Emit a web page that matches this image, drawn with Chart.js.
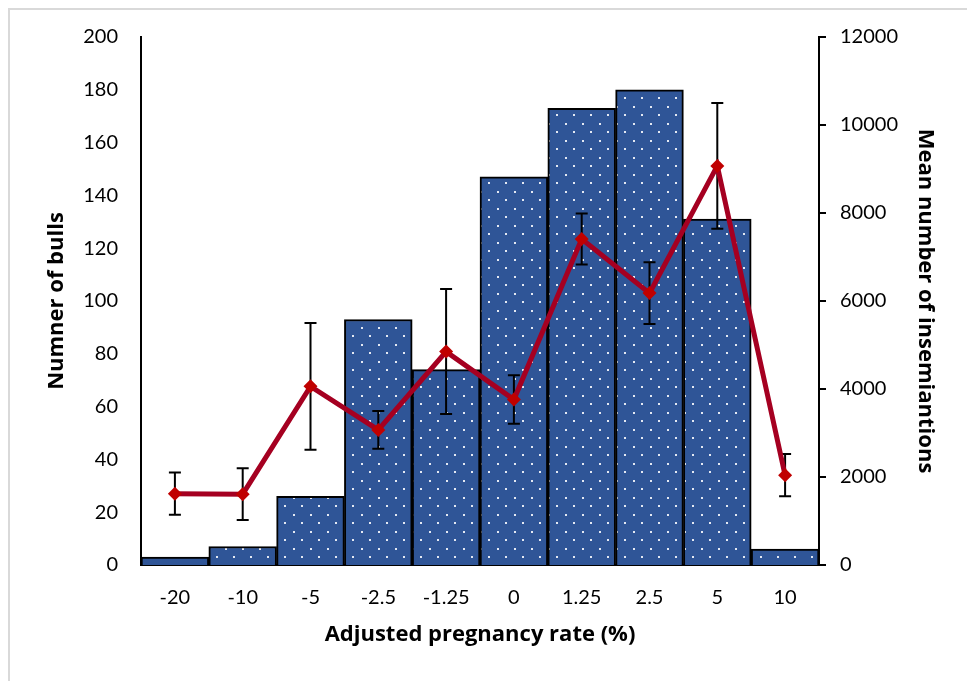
<!DOCTYPE html>
<html>
<head>
<meta charset="utf-8">
<script src="https://cdn.jsdelivr.net/npm/chart.js@4.4.1/dist/chart.umd.min.js"></script>
<style>
  html, body { margin: 0; padding: 0; background: #fff; }
  #frame { position: absolute; left: 8px; top: 8px; width: 1000px; height: 700px;
           border-left: 2px solid #d9d9d9; border-top: 2px solid #d9d9d9; }
  #wrap { position: absolute; left: 0; top: 0; width: 967px; height: 681px; }
</style>
</head>
<body>
<div id="frame"></div>
<div id="wrap"><canvas id="chart" width="967" height="681"></canvas></div>
<script>
// Data
const categories = ['-20', '-10', '-5', '-2.5', '-1.25', '0', '1.25', '2.5', '5', '10'];
const bulls = [3, 7, 26, 93, 74, 147, 173, 180, 131, 6];
const meanInseminations = [1620, 1610, 4060, 3070, 4850, 3760, 7410, 6180, 9070, 2040];
const inseminationErr = [480, 590, 1440, 430, 1420, 550, 580, 700, 1430, 480];

const FONT = 'Lato, "Open Sans", sans-serif';
const TITLE_FONT = '"Open Sans", Lato, sans-serif';

// blue fill with small white dots
function dotPattern() {
  const c = document.createElement('canvas');
  c.width = 17; c.height = 17;
  const g = c.getContext('2d');
  g.fillStyle = '#2F5597';
  g.fillRect(0, 0, 17, 17);
  g.fillStyle = '#e4e9f3';
  g.fillRect(4, 4, 2, 2);
  g.fillRect(12, 12, 2, 2);
  return g.createPattern(c, 'repeat');
}

// error bars for the line, drawn under the line itself
const errorBars = {
  id: 'errorBars',
  beforeDatasetDraw(chart, args) {
    if (args.index !== 0) return;
    const meta = chart.getDatasetMeta(0);
    const y = chart.scales.y1;
    const ctx = chart.ctx;
    ctx.save();
    ctx.strokeStyle = '#000';
    ctx.lineWidth = 2;
    meta.data.forEach((pt, i) => {
      const top = y.getPixelForValue(meanInseminations[i] + inseminationErr[i]);
      const bot = y.getPixelForValue(meanInseminations[i] - inseminationErr[i]);
      ctx.beginPath();
      ctx.moveTo(pt.x, top); ctx.lineTo(pt.x, bot);
      ctx.moveTo(pt.x - 6, top); ctx.lineTo(pt.x + 6, top);
      ctx.moveTo(pt.x - 6, bot); ctx.lineTo(pt.x + 6, bot);
      ctx.stroke();
    });
    ctx.restore();
  }
};

new Chart(document.getElementById('chart'), {
  data: {
    labels: categories,
    datasets: [
      {
        type: 'line',
        label: 'Mean number of inseminations',
        data: meanInseminations,
        yAxisID: 'y1',
        borderColor: '#A50021',
        borderWidth: 5,
        pointStyle: 'rectRot',
        pointRadius: 7,
        pointBackgroundColor: '#C00000',
        pointBorderColor: '#C00000',
        pointBorderWidth: 0,
        tension: 0,
        order: 0
      },
      {
        type: 'bar',
        label: 'Number of bulls',
        data: bulls,
        yAxisID: 'y',
        backgroundColor: dotPattern(),
        borderColor: '#000',
        borderWidth: 2,
        categoryPercentage: 1,
        barPercentage: 1,
        order: 1
      }
    ]
  },
  options: {
    responsive: false,
    animation: false,
    layout: { padding: { top: 37, left: 0, right: 0, bottom: 0 } },
    plugins: { legend: { display: false }, tooltip: { enabled: false } },
    scales: {
      x: {
        offset: true,
        grid: { display: false, drawTicks: false },
        border: { display: true, color: '#000', width: 2 },
        ticks: { color: '#000', font: { family: FONT, size: 20 }, padding: 21 },
        title: {
          display: true, text: 'Adjusted pregnancy rate (%)', color: '#000',
          font: { family: TITLE_FONT, size: 22, weight: 'bold' }, padding: { top: 0, bottom: 33 }
        },
        afterFit(scale) { scale.height = 116; }
      },
      y: {
        position: 'left',
        min: 0, max: 200,
        ticks: { stepSize: 20, color: '#000', font: { family: FONT, size: 20 }, padding: 23 },
        grid: { display: false, drawTicks: false },
        border: { display: true, color: '#000', width: 2 },
        title: {
          display: true, text: 'Numner of bulls', color: '#000',
          font: { family: TITLE_FONT, size: 22, weight: 'bold' }, padding: { top: 44, bottom: 0 }
        },
        afterFit(scale) { scale.width = 141; }
      },
      y1: {
        position: 'right',
        min: 0, max: 12000,
        ticks: {
          stepSize: 2000, color: '#000', font: { family: FONT, size: 20 }, padding: 14,
          callback: (v) => String(v)
        },
        grid: { drawOnChartArea: false, drawTicks: true, tickLength: 7, color: '#000', lineWidth: 2 },
        border: { display: true, color: '#000', width: 2 },
        title: {
          display: true, text: 'Mean number of insemiantions', color: '#000',
          font: { family: TITLE_FONT, size: 22, weight: 'bold' }, padding: { top: 29, bottom: 0 }
        },
        afterFit(scale) { scale.width = 148; }
      }
    }
  },
  plugins: [errorBars]
});
</script>
</body>
</html>
